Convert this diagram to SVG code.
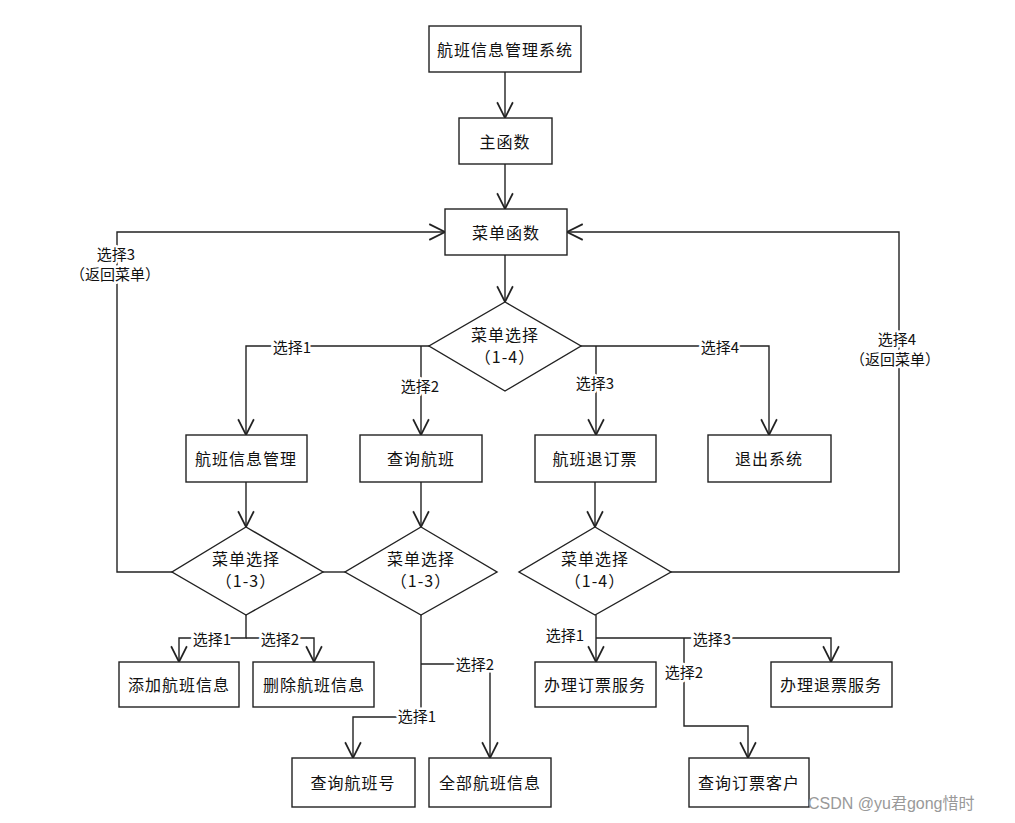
<svg xmlns="http://www.w3.org/2000/svg" width="1015" height="823" viewBox="0 0 1015 823">
<style>
.box{fill:#fff;stroke:#222;stroke-width:1.4}
.t{font-family:"Noto Sans CJK SC","Liberation Sans",sans-serif;font-size:16px;fill:#111;text-anchor:middle;dominant-baseline:central;letter-spacing:1px}
.l{font-family:"Noto Sans CJK SC","Liberation Sans",sans-serif;font-size:15px;fill:#111;text-anchor:middle;dominant-baseline:central;stroke:#fff;stroke-width:5px;paint-order:stroke;stroke-linejoin:round}
.c{fill:none;stroke:#222;stroke-width:1.4}
.wm{font-family:"Liberation Sans","Noto Sans CJK SC",sans-serif;font-size:16px;fill:#999}
</style>
<defs>
<marker id="a" markerUnits="userSpaceOnUse" markerWidth="18" markerHeight="18" viewBox="0 0 16 16" refX="15" refY="8" orient="auto">
<path d="M1,1 L15,8 L1,15" fill="none" stroke="#222" stroke-width="1.5"/>
</marker>
</defs>
<rect width="1015" height="823" fill="#fff"/>
<g id="connectors">
<path class="c" d="M505,72 V118" marker-end="url(#a)"/>
<path class="c" d="M505,164 V209" marker-end="url(#a)"/>
<path class="c" d="M505,255 V302" marker-end="url(#a)"/>
<path class="c" d="M172,572 H117 V232 H445" marker-end="url(#a)"/>
<path class="c" d="M671,572 H899 V232 H567" marker-end="url(#a)"/>
<path class="c" d="M429,346 H246 V435" marker-end="url(#a)"/>
<path class="c" d="M421,346 V435" marker-end="url(#a)"/>
<path class="c" d="M581,346 H769 V435" marker-end="url(#a)"/>
<path class="c" d="M596,346 V435" marker-end="url(#a)"/>
<path class="c" d="M246,482 V527" marker-end="url(#a)"/>
<path class="c" d="M421,482 V527" marker-end="url(#a)"/>
<path class="c" d="M595,482 V527" marker-end="url(#a)"/>
<path class="c" d="M323,572 H345"/>
<path class="c" d="M246,615 V638 H179 V662" marker-end="url(#a)"/>
<path class="c" d="M246,638 H314 V662" marker-end="url(#a)"/>
<path class="c" d="M421,615 V717 H353 V758" marker-end="url(#a)"/>
<path class="c" d="M421,664 H490 V758" marker-end="url(#a)"/>
<path class="c" d="M596,615 V662" marker-end="url(#a)"/>
<path class="c" d="M596,638 H831 V662" marker-end="url(#a)"/>
<path class="c" d="M684,638 V726 H748 V758" marker-end="url(#a)"/>
<text class="l" x="116" y="253">选择3</text>
<text class="l" x="115" y="273">（返回菜单）</text>
<text class="l" x="897" y="338">选择4</text>
<text class="l" x="895" y="358">（返回菜单）</text>
<text class="l" x="292" y="346">选择1</text>
<text class="l" x="420" y="385">选择2</text>
<text class="l" x="595" y="382">选择3</text>
<text class="l" x="720" y="346">选择4</text>
<text class="l" x="212" y="638">选择1</text>
<text class="l" x="280" y="638">选择2</text>
<text class="l" x="475" y="663">选择2</text>
<text class="l" x="417" y="715">选择1</text>
<text class="l" x="565" y="634">选择1</text>
<text class="l" x="712" y="638">选择3</text>
<text class="l" x="684" y="671">选择2</text>
</g>
<g id="n_sys"><rect class="box" x="429" y="26" width="152" height="46"/><text class="t" x="505" y="49">航班信息管理系统</text></g>
<g id="n_main"><rect class="box" x="459" y="118" width="93" height="46"/><text class="t" x="505" y="141">主函数</text></g>
<g id="n_menu"><rect class="box" x="445" y="209" width="122" height="46"/><text class="t" x="506" y="232">菜单函数</text></g>
<g id="d_main"><polygon class="box" points="505,302 581,346 505,391 429,346"/><text class="t" x="505" y="334">菜单选择</text><text class="t" x="505" y="356">（1-4）</text></g>
<g id="n_mgmt"><rect class="box" x="186" y="435" width="121" height="47"/><text class="t" x="246" y="458">航班信息管理</text></g>
<g id="n_query"><rect class="box" x="360" y="435" width="122" height="47"/><text class="t" x="421" y="458">查询航班</text></g>
<g id="n_ticket"><rect class="box" x="535" y="435" width="121" height="47"/><text class="t" x="595" y="458">航班退订票</text></g>
<g id="n_exit"><rect class="box" x="708" y="435" width="123" height="47"/><text class="t" x="769" y="458">退出系统</text></g>
<g id="d_mgmt"><polygon class="box" points="246,527 323,572 246,615 172,572"/><text class="t" x="246" y="558">菜单选择</text><text class="t" x="246" y="580">（1-3）</text></g>
<g id="d_query"><polygon class="box" points="421,527 497,572 421,615 345,572"/><text class="t" x="421" y="558">菜单选择</text><text class="t" x="421" y="580">（1-3）</text></g>
<g id="d_ticket"><polygon class="box" points="595,527 671,572 595,615 519,572"/><text class="t" x="595" y="558">菜单选择</text><text class="t" x="595" y="580">（1-4）</text></g>
<g id="n_add"><rect class="box" x="119" y="662" width="120" height="45"/><text class="t" x="179" y="684">添加航班信息</text></g>
<g id="n_del"><rect class="box" x="253" y="662" width="121" height="45"/><text class="t" x="314" y="684">删除航班信息</text></g>
<g id="n_book"><rect class="box" x="535" y="662" width="121" height="45"/><text class="t" x="595" y="684">办理订票服务</text></g>
<g id="n_refund"><rect class="box" x="771" y="662" width="121" height="45"/><text class="t" x="831" y="684">办理退票服务</text></g>
<g id="n_qno"><rect class="box" x="292" y="758" width="123" height="49"/><text class="t" x="353" y="782">查询航班号</text></g>
<g id="n_all"><rect class="box" x="429" y="758" width="122" height="49"/><text class="t" x="490" y="782">全部航班信息</text></g>
<g id="n_cust"><rect class="box" x="689" y="758" width="120" height="49"/><text class="t" x="749" y="782">查询订票客户</text></g>
<text class="wm" x="808" y="809">CSDN @yu君gong惜时</text>
</svg>
